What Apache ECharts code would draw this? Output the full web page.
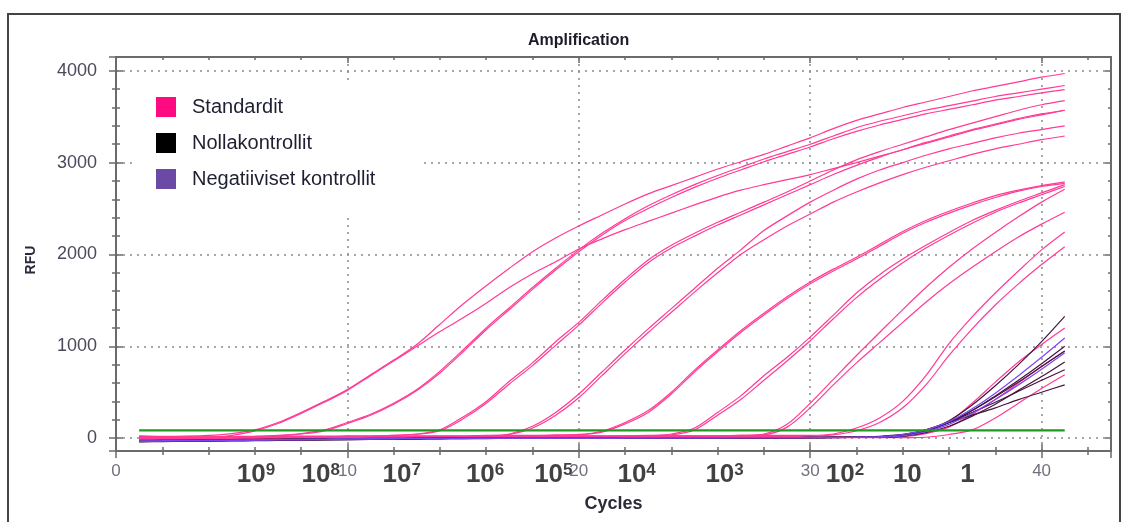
<!DOCTYPE html>
<html>
<head>
<meta charset="utf-8">
<title>Amplification</title>
<script src="https://cdn.jsdelivr.net/npm/echarts@6.0.0/dist/echarts.min.js"></script>
<style>
  html, body { margin: 0; padding: 0; background: #ffffff; }
  #chart { width: 1127px; height: 522px; }
</style>
</head>
<body>
<div id="chart"></div>
<script>
// ---- data: RFU per cycle (cycles 1..41) ----
const cycles = [1,2,3,4,5,6,7,8,9,10,11,12,13,14,15,16,17,18,19,20,21,22,23,24,25,26,27,28,29,30,31,32,33,34,35,36,37,38,39,40,41];

// standard dilution series (Standardit)
const std9a = [25,20,22,30,50,90,170,280,400,530,690,850,1020,1240,1460,1660,1850,2030,2180,2310,2430,2550,2660,2750,2840,2930,3010,3090,3180,3270,3370,3460,3530,3600,3660,3720,3780,3830,3880,3930,3970];
const std9b = [-30,-25,-15,0,30,80,160,270,390,520,680,840,1000,1160,1310,1470,1640,1790,1920,2060,2170,2270,2360,2450,2540,2625,2700,2760,2815,2870,2935,3000,3070,3140,3210,3280,3350,3410,3470,3520,3570];
const std8a = [15,10,5,10,15,20,30,50,90,170,260,380,530,730,960,1200,1420,1640,1850,2050,2230,2390,2530,2650,2760,2860,2950,3040,3120,3200,3290,3380,3450,3510,3570,3620,3670,3720,3760,3800,3840];
const std8b = [-10,-5,0,5,10,15,25,45,80,160,250,370,520,710,940,1180,1400,1620,1830,2030,2210,2370,2500,2620,2730,2830,2920,3010,3090,3170,3260,3340,3410,3470,3530,3580,3630,3680,3720,3760,3795];
const std7a = [-20,-15,-10,-5,0,5,5,10,10,15,20,30,45,90,230,400,620,820,1050,1260,1500,1730,1940,2100,2230,2350,2460,2570,2680,2800,2920,3030,3120,3200,3280,3360,3430,3500,3570,3630,3675];
const std7b = [10,12,15,15,18,20,20,22,22,25,25,30,40,80,210,380,590,790,1010,1230,1470,1700,1910,2070,2200,2320,2430,2540,2650,2760,2870,2970,3060,3140,3220,3290,3360,3420,3480,3530,3570];
const std6a = [5,0,-5,-5,0,0,5,5,10,10,10,15,15,20,20,25,45,130,280,480,720,960,1190,1410,1630,1850,2050,2260,2420,2570,2700,2820,2920,3000,3080,3150,3210,3270,3320,3360,3400];
const std6b = [-15,-10,-10,-5,-5,0,0,5,5,5,10,10,10,15,15,20,40,110,250,440,680,920,1150,1370,1590,1800,2000,2160,2310,2440,2570,2680,2780,2870,2950,3020,3090,3150,3200,3250,3290];
const std5a = [0,5,5,10,10,10,15,15,15,20,20,20,25,25,25,30,30,30,35,40,75,170,300,500,740,960,1170,1360,1540,1700,1840,1970,2110,2250,2370,2470,2560,2640,2700,2750,2790];
const std5b = [-10,-5,0,0,5,5,10,10,10,15,15,15,20,20,20,25,25,25,30,35,65,155,280,480,720,940,1150,1340,1520,1680,1820,1950,2090,2230,2350,2450,2540,2620,2690,2740,2775];
const std4a = [20,15,10,10,5,5,5,10,10,10,10,15,15,15,15,20,20,20,20,25,25,25,30,45,110,280,460,680,880,1100,1340,1580,1780,1950,2100,2240,2370,2480,2580,2670,2760];
const std4b = [-25,-20,-15,-10,-10,-5,-5,0,0,0,5,5,5,10,10,10,15,15,15,20,20,20,25,35,90,250,420,630,840,1060,1300,1530,1730,1910,2070,2210,2340,2460,2560,2650,2740];
const std3a = [10,10,5,5,5,0,0,0,5,5,5,10,10,10,10,15,15,15,15,20,20,20,20,25,25,25,30,45,150,380,640,900,1150,1400,1640,1860,2060,2240,2410,2570,2710];
const std3b = [-20,-15,-15,-10,-10,-5,-5,0,0,0,0,5,5,5,5,10,10,10,10,15,15,15,15,20,20,20,25,35,120,330,580,820,1040,1260,1480,1680,1860,2030,2190,2330,2460];
const std2a = [0,0,5,5,5,5,10,10,10,10,10,15,15,15,15,15,20,20,20,20,20,25,25,25,25,25,30,30,30,30,45,110,220,400,680,1030,1320,1580,1820,2050,2245];
const std2b = [-15,-10,-10,-5,-5,-5,0,0,0,0,0,5,5,5,5,5,10,10,10,10,10,15,15,15,15,15,20,20,20,20,35,80,170,330,580,900,1190,1450,1680,1890,2085];
const std1a = [-30,-28,-25,-22,-20,-18,-15,-12,-10,-8,-5,-5,-3,0,0,0,0,2,2,2,5,5,5,5,5,8,8,8,10,10,10,12,15,30,70,180,380,610,830,1020,1200];
const std1b = [15,12,10,8,5,5,5,3,3,3,0,0,0,0,0,0,0,0,0,0,0,0,0,5,5,5,5,5,5,5,10,10,10,15,50,120,260,420,600,780,950];
const std0a = [-20,-18,-15,-12,-10,-8,-5,-5,-5,-3,-3,-3,0,0,0,0,0,0,0,0,0,0,0,0,2,2,2,2,2,5,5,5,5,5,10,40,90,220,380,540,690];

// no-template controls (Nollakontrollit)
const ntc1 = [-40,-38,-35,-32,-30,-28,-25,-22,-20,-18,-15,-12,-10,-8,-5,-5,-3,-3,0,0,0,0,2,2,2,5,5,5,5,8,8,10,20,40,90,190,360,570,800,1050,1325];
const ntc2 = [-35,-32,-30,-28,-25,-22,-20,-18,-15,-12,-10,-8,-5,-5,-3,-3,0,0,0,0,0,2,2,2,2,5,5,5,5,8,8,10,15,35,80,170,300,460,630,810,1000];
const ntc3 = [-38,-35,-32,-30,-28,-25,-22,-20,-18,-15,-12,-10,-8,-5,-5,-3,-3,0,0,0,0,0,2,2,2,2,5,5,5,5,8,8,10,20,60,130,240,370,520,670,830];
const ntc4 = [-30,-28,-25,-22,-20,-18,-15,-12,-10,-8,-5,-5,-3,-3,0,0,0,0,0,0,0,2,2,2,2,2,5,5,5,5,5,8,10,30,80,170,280,390,510,630,745];
const ntc5 = [-25,-22,-20,-18,-15,-12,-10,-8,-5,-5,-3,-3,0,0,0,0,0,0,0,0,2,2,2,2,2,5,5,5,5,5,8,8,15,35,90,170,250,330,420,500,580];
const ntc6 = [-32,-30,-28,-25,-22,-20,-18,-15,-12,-10,-8,-5,-5,-3,-3,0,0,0,0,0,0,2,2,2,2,5,5,5,5,5,8,8,10,25,80,170,300,450,610,780,950];

// negative controls (Negatiiviset kontrollit)
const neg1 = [-35,-32,-30,-28,-25,-22,-20,-18,-15,-12,-10,-8,-5,-5,-3,-3,0,0,0,0,0,2,2,2,2,5,5,5,5,8,8,10,15,40,90,180,320,490,680,880,1090];
const neg2 = [-30,-28,-25,-22,-20,-18,-15,-12,-10,-8,-5,-5,-3,-3,0,0,0,0,0,0,0,2,2,2,2,2,5,5,5,5,5,8,10,25,70,150,270,420,580,750,930];

// threshold line
const thresholdRFU = 85;
const thresholdCycles = [1, 41];

// starting-quantity annotations under the axis
const dilutionCycles = [6.05, 8.85, 12.35, 15.95, 18.9, 22.5, 26.3, 31.5, 34.2, 36.8];
const dilutionBase = ['10','10','10','10','10','10','10','10','10','1'];
const dilutionExp = ['9','8','7','6','5','4','3','2','',''];

// axis ranges and tick labels
const xRange = [0, 43];
const yRange = [-140, 4150];
const xTickLabels = [0, 10, 20, 30, 40];
const yTickLabels = [0, 1000, 2000, 3000, 4000];

// ---- styling ----
const FONT = 'Liberation Sans, Arial, Helvetica, sans-serif';
const frameColor = '#6b6b6b';
const pinkLine = '#ff3b95';
const pinkKey = '#ff0a80';
const darkLine = '#45163f';
const darkKey = '#000000';
const violetLine = '#7b48f0';
const violetKey = '#6a4aa4';

const groups = [
  { name: 'Standardit', key: pinkKey, line: pinkLine,
    curves: [std9a, std9b, std8a, std8b, std7a, std7b, std6a, std6b, std5a, std5b,
             std4a, std4b, std3a, std3b, std2a, std2b, std1a, std1b, std0a] },
  { name: 'Nollakontrollit', key: darkKey, line: darkLine,
    curves: [ntc1, ntc2, ntc3, ntc4, ntc5, ntc6] },
  { name: 'Negatiiviset kontrollit', key: violetKey, line: violetLine,
    curves: [neg1, neg2] }
];

const series = [];
groups.forEach((g, gi) => {
  g.curves.forEach(vals => {
    series.push({
      name: g.name,
      type: 'line',
      data: cycles.map((c, i) => [c, vals[i]]),
      symbol: 'none',
      showSymbol: false,
      smooth: 0.3,
      silent: true,
      z: 2 + gi,
      lineStyle: { color: g.line, width: 1.2 },
      itemStyle: { color: g.key }
    });
  });
});

series.push({
  name: 'Threshold',
  type: 'line',
  data: thresholdCycles.map(c => [c, thresholdRFU]),
  symbol: 'none',
  silent: true,
  z: 6,
  lineStyle: { color: '#1f9a22', width: 2.2 }
});

series.push({
  name: 'Quantity',
  type: 'scatter',
  data: dilutionCycles.map(c => [c, yRange[0]]),
  symbolSize: 0,
  silent: true,
  clip: false,
  z: 7,
  label: {
    show: true,
    position: 'bottom',
    distance: 11,
    formatter: p => {
      const i = p.dataIndex;
      return '{b|' + dilutionBase[i] + '}' + (dilutionExp[i] ? '{s|' + dilutionExp[i] + '}' : '');
    },
    rich: {
      b: { fontFamily: FONT, fontSize: 26, fontWeight: 'bold', color: '#111111' },
      s: { fontFamily: FONT, fontSize: 17, fontWeight: 'bold', color: '#111111', verticalAlign: 'top' }
    }
  }
});

// tick-only helper axes (minor ticks and the inner halves of crossing ticks)
function xTicks(position, interval, length, inside) {
  return {
    type: 'value', position, min: xRange[0], max: xRange[1], interval,
    axisLine: { show: false, onZero: false }, axisLabel: { show: false }, splitLine: { show: false },
    axisTick: { show: true, length, inside, lineStyle: { color: frameColor, width: 1.5 } }
  };
}
function yTicks(position, step, length, inside) {
  return {
    type: 'value', position, min: yRange[0], max: yRange[1], minInterval: step, maxInterval: step,
    axisLine: { show: false, onZero: false }, axisLabel: { show: false }, splitLine: { show: false },
    axisTick: { show: true, length, inside, lineStyle: { color: frameColor, width: 1.5 } }
  };
}

const dotted = { type: [2, 5], color: '#8a8a8a', width: 1.5 };

const option = {
  animation: false,
  backgroundColor: '#ffffff',
  title: {
    text: 'Amplification',
    left: 523, top: 28,
    textStyle: { fontFamily: FONT, fontSize: 16, fontWeight: 'bold', color: '#1c1c28' }
  },
  legend: {
    orient: 'vertical',
    left: 133, top: 80,
    padding: [17, 48, 26, 23],
    backgroundColor: '#ffffff',
    itemWidth: 20, itemHeight: 20, itemGap: 16,
    icon: 'rect',
    selectedMode: false,
    textStyle: { fontFamily: FONT, fontSize: 20, color: '#1f1f33', padding: [0, 0, 0, 11] },
    data: groups.map(g => ({ name: g.name, icon: 'rect', itemStyle: { color: g.key } }))
  },
  grid: { left: 116, right: 16, top: 57, bottom: 71, containLabel: false },
  xAxis: [
    {
      type: 'value', position: 'bottom', min: xRange[0], max: xRange[1], interval: 10,
      name: 'Cycles', nameLocation: 'middle', nameGap: 44,
      nameTextStyle: { fontFamily: FONT, fontSize: 18, fontWeight: 'bold', color: '#2a2a3a' },
      axisLine: { show: true, onZero: false, lineStyle: { color: frameColor, width: 2 } },
      axisTick: { show: true, length: 7, lineStyle: { color: frameColor, width: 1.5 } },
      axisLabel: {
        margin: 12, fontFamily: FONT, fontSize: 17, color: '#70707f',
        formatter: v => (xTickLabels.indexOf(v) >= 0 ? String(v) : '')
      },
      splitLine: { show: true, lineStyle: dotted }
    },
    xTicks('bottom', 10, 7, true),
    xTicks('bottom', 2, 4, false),
    xTicks('bottom', 2, 4, true),
    {
      type: 'value', position: 'top', min: xRange[0], max: xRange[1], interval: 10,
      axisLine: { show: true, onZero: false, lineStyle: { color: frameColor, width: 2 } },
      axisLabel: { show: false }, splitLine: { show: false },
      axisTick: { show: true, length: 6, inside: true, lineStyle: { color: frameColor, width: 1.5 } }
    },
    xTicks('top', 2, 3, true)
  ],
  yAxis: [
    {
      type: 'value', position: 'left', min: yRange[0], max: yRange[1],
      minInterval: 1000, maxInterval: 1000,
      name: 'RFU', nameLocation: 'middle', nameRotate: 90, nameGap: 78,
      nameTextStyle: { fontFamily: FONT, fontSize: 14, fontWeight: 'bold', color: '#2a2a3a', padding: [0, 12, 0, 0] },
      axisLine: { show: true, onZero: false, lineStyle: { color: frameColor, width: 2 } },
      axisTick: { show: true, length: 7, lineStyle: { color: frameColor, width: 1.5 } },
      axisLabel: {
        margin: 19, fontFamily: FONT, fontSize: 18, color: '#4a4a5a',
        formatter: v => (yTickLabels.indexOf(v) >= 0 ? String(v) : '')
      },
      splitLine: { show: true, lineStyle: dotted }
    },
    yTicks('left', 1000, 7, true),
    yTicks('left', 200, 4, false),
    yTicks('left', 200, 4, true),
    {
      type: 'value', position: 'right', min: yRange[0], max: yRange[1],
      minInterval: 1000, maxInterval: 1000,
      axisLine: { show: true, onZero: false, lineStyle: { color: frameColor, width: 2 } },
      axisLabel: { show: false }, splitLine: { show: false },
      axisTick: { show: true, length: 6, inside: true, lineStyle: { color: frameColor, width: 1.5 } }
    },
    yTicks('right', 200, 3, true)
  ],
  graphic: [
    {
      type: 'rect', silent: true, z: -1,
      shape: { x: 8, y: 14, width: 1112, height: 520 },
      style: { fill: 'none', stroke: '#444444', lineWidth: 2 }
    }
  ],
  series
};

const chart = echarts.init(document.getElementById('chart'), null, { renderer: 'canvas' });
chart.setOption(option);
</script>
</body>
</html>
